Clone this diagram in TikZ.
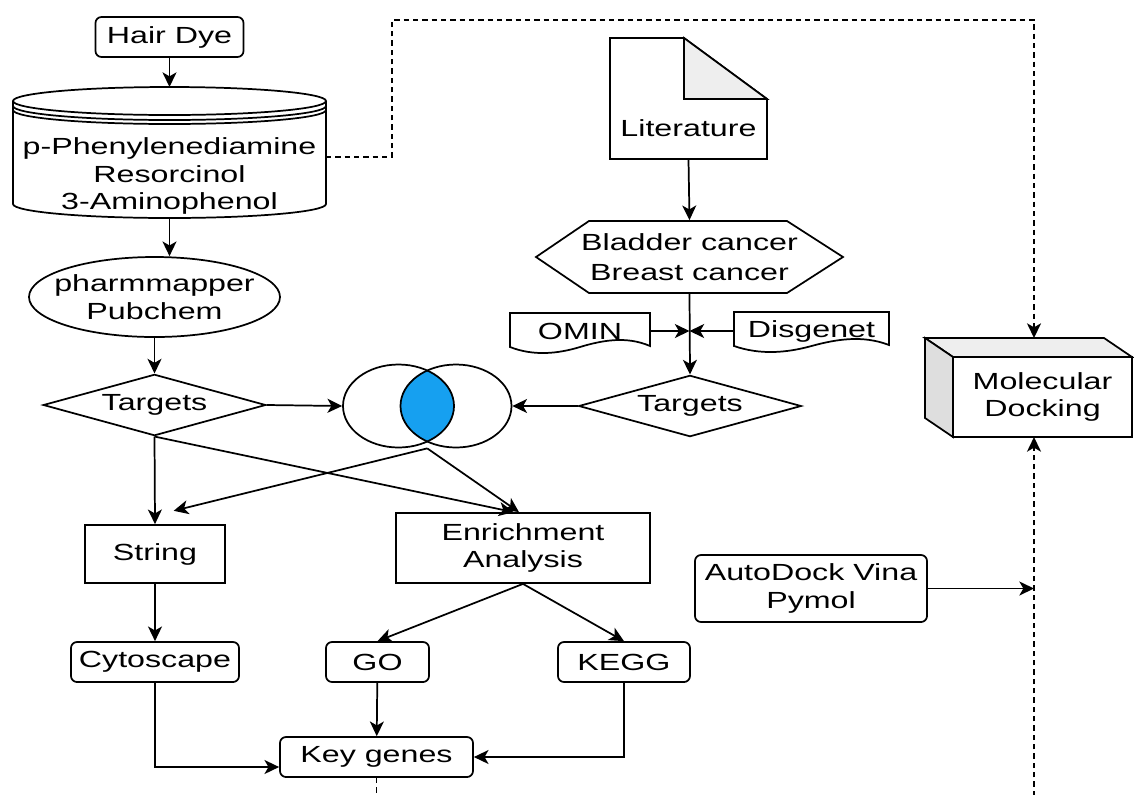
\documentclass[tikz,border=0pt]{standalone}
\usepackage{fontspec}
\setmainfont{Liberation Sans}[FakeStretch=1.38]
\usetikzlibrary{shapes.geometric,arrows.meta,calc}
\definecolor{lensblue}{RGB}{22,160,240}
\definecolor{sidegray}{RGB}{222,222,222}
\definecolor{topgray}{RGB}{238,238,238}

\begin{document}
\begin{tikzpicture}[x=0.75pt,y=-0.75pt,font=\fontsize{17.5}{20.5}\selectfont,line width=1.3pt,
  arr/.style={line width=1.3pt,-{Stealth[length=11pt,width=10.5pt,inset=3pt]}},
  dashline/.style={dash pattern=on 4pt off 3pt},
  box/.style={draw,line width=1.3pt,fill=white,align=center},
  rbox/.style={box,rounded corners=4.5pt},
  tgt/.style={box,diamond,aspect=3.7,inner sep=0pt,minimum width=167pt,minimum height=46pt},
  plain/.style={align=center,inner sep=0pt},
  vennc/.style={draw,ellipse,line width=1.3pt,inner sep=0pt,minimum width=83.25pt,minimum height=62.25pt}]
\useasboundingbox[fill=white] (0,0) rectangle (1134,794);

\node[rbox,minimum width=111pt,minimum height=30pt] (hair) at (169.5,37) {Hair Dye};

\draw[fill=white] (13,101) -- (13,204) arc[start angle=180,end angle=0,x radius=156.5,y radius=14] -- (326,101);
\draw[fill=white] (169.5,101) ellipse[x radius=156.5,y radius=14];
\draw (13,106) arc[start angle=180,end angle=0,x radius=156.5,y radius=14];
\draw (13,110) arc[start angle=180,end angle=0,x radius=156.5,y radius=14];
\node[plain] (chem) at (169.5,176) {p-Phenylenediamine\\Resorcinol\\3-Aminophenol};
\coordinate (chemT) at (169.5,87);
\coordinate (chemB) at (169.5,218);
\coordinate (chemR) at (326,157);

\node[plain,minimum width=188pt,minimum height=60pt] (pharm) at (154.5,297) {pharmmapper\\Pubchem};
\draw (pharm.center) ellipse[x radius=125.5,y radius=40];

\node[tgt] (tgtA) at (154.5,405) {Targets};

\begin{scope}
\clip (398.5,406) ellipse[x radius=55.5,y radius=41.5];
\fill[lensblue] (456,406) ellipse[x radius=56,y radius=41.5];
\end{scope}
\node[vennc] (vennL) at (398.5,406) {};
\node[vennc] (vennR) at (456,406) {};
\coordinate (vennB) at ($(vennL.south)!0.5!(vennR.south)$);

\draw[fill=white] (610,38) -- (684,38) -- (767,99) -- (767,159) -- (610,159) -- cycle;
\draw[fill=topgray] (684,38) -- (684,99) -- (767,99) -- cycle;
\node[plain,minimum width=117.75pt,minimum height=90.75pt] (lit) at (688.5,98.5) {};
\node[plain] (littxt) at (688.5,128) {Literature};

\draw[fill=white] (536,257) -- (589,221) -- (787,221) -- (843,257) -- (787,293) -- (589,293) -- cycle;
\node[plain,minimum width=230pt,minimum height=54pt] (dis) at (689.5,257) {Bladder cancer\\[2pt]Breast cancer};

\draw[fill=white] (510,313) -- (650,313) -- (650,346) .. controls (627,336) and (603,340) .. (580,347) .. controls (557,354) and (533,356) .. (510,347) -- cycle;
\node[plain,minimum width=105pt,minimum height=24pt] (omin) at (580,331) {OMIN};
\draw[fill=white] (734,312) -- (889,312) -- (889,345) .. controls (863,335) and (837,339) .. (811.5,346) .. controls (786,353) and (760,355) .. (734,346) -- cycle;
\node[plain,minimum width=116pt,minimum height=24pt] (disg) at (811.5,331) {Disgenet};

\node[tgt] (tgtB) at (690,406) {Targets};

\draw[fill=topgray] (925,338) -- (1104,338) -- (1132,357) -- (953,357) -- cycle;
\draw[fill=sidegray] (925,338) -- (953,357) -- (953,437) -- (925,418) -- cycle;
\node[box,minimum width=134pt,minimum height=60pt] (dock) at (1042.5,397) {Molecular\\Docking};
\coordinate (dockT) at (1034,338);
\coordinate (dockB) at (1034,437);

\node[box,minimum width=105pt,minimum height=43.5pt] (string) at (155,554) {String};
\node[box,minimum width=190.5pt,minimum height=52.5pt] (enr) at (523,548) {Enrichment\\Analysis};
\node[rbox,minimum width=174pt,minimum height=50.25pt] (auto) at (811,588.5) {AutoDock Vina\\Pymol};
\node[rbox,minimum width=126pt,minimum height=30pt] (cyto) at (155,662) {Cytoscape};
\node[rbox,minimum width=77.25pt,minimum height=30pt] (go) at (377.5,662) {GO};
\node[rbox,minimum width=99pt,minimum height=30pt] (kegg) at (624,662) {KEGG};
\node[rbox,minimum width=144.75pt,minimum height=30pt] (key) at (376.5,757) {Key genes};

\draw[arr] (hair) -- (chemT);
\draw[arr] (chemB) -- (chemB |- pharm.north);
\draw[arr] (pharm.south) -- (tgtA.north);
\draw[arr] (tgtA.east) -- (vennL.west);
\draw[arr] (tgtB.west) -- (vennR.east);
\draw[arr] (lit.south) -- (dis.north);
\draw[arr] (dis.south) -- (tgtB.north);
\draw[arr] (omin.east) -- (omin.east -| dis.south);
\draw[arr] (disg.west) -- (disg.west -| dis.south);
\draw[arr] (tgtA.south) -- (string.north);
\draw[arr] (tgtA.south) -- ([xshift=-7pt]enr.north);
\draw[arr] (vennB) -- ([xshift=-3pt]enr.north);
\draw[arr] (vennB) -- ([xshift=14pt,yshift=10pt]string.north);
\draw[arr] (string) -- (cyto);
\draw[arr] (enr.south) -- (go.north);
\draw[arr] (enr.south) -- (kegg.north);
\draw[arr] (go) -- (key);
\draw[arr] (cyto.south) |- ([yshift=-7.5pt]key.west);
\draw[arr] (kegg.south) |- (key.east);
\draw[arr,dashline] (chemR) -| (392,20) -| (dockT);
\draw[arr,dashline] (key.south) -- ++(0,21) -| (dockB);
\draw[arr] (auto.east) -- (auto.east -| dockB);
\end{tikzpicture}
\end{document}
